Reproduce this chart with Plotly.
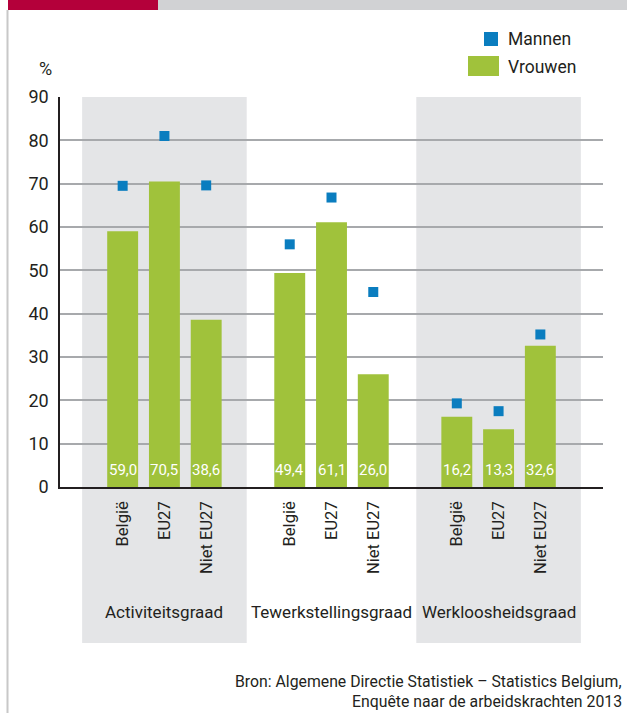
import plotly.graph_objects as go

# ---- data ----
groups = ["Activiteitsgraad", "Tewerkstellingsgraad", "Werkloosheidsgraad"]
origins = ["België", "EU27", "Niet EU27"]
vrouwen = [59.0, 70.5, 38.6, 49.4, 61.1, 26.0, 16.2, 13.3, 32.6]
mannen = [69.5, 81.0, 69.6, 56.0, 66.8, 45.0, 19.3, 17.5, 35.2]
y_ticks = [0, 10, 20, 30, 40, 50, 60, 70, 80, 90]
source_lines = ["Bron: Algemene Directie Statistiek – Statistics Belgium,",
                "Enquête naar de arbeidskrachten 2013"]

# ---- layout helpers ----
W, H = 627, 713
ML, MR, MT, MB = 60, 24, 97, 226
PW, PH = W - ML - MR, H - MT - MB

def px(xp):  # page pixel x -> paper x
    return (xp - ML) / PW

def py(yp):  # page pixel y -> paper y
    return (H - MB - yp) / PH

FONT = "Roboto, Liberation Sans, sans-serif"
GREEN = "#a0c23b"
BLUE = "#0a7dbf"
BAND = "#e4e5e7"
TXT = "#231f20"

# positions: 3 per group, one empty slot between groups
pos = []
labels = []
for gi in range(len(groups)):
    for j, o in enumerate(origins):
        pos.append(gi * 4 + j)
        labels.append(o)
centers = [gi * 4 + 1 for gi in range(len(groups))]

fmt = [f"{v:.1f}".replace(".", ",") for v in vrouwen]

fig = go.Figure()
fig.add_trace(go.Bar(
    x=pos, y=vrouwen, name="Vrouwen", width=0.74,
    marker=dict(color=GREEN, line=dict(width=0)),
    showlegend=False, hoverinfo="x+y",
))
fig.add_trace(go.Scatter(
    x=pos, y=mannen, name="Mannen", mode="markers",
    marker=dict(symbol="square", size=10, color=BLUE, line=dict(width=0)),
    showlegend=False,
))

shapes = []
# grey background bands for first and last group
for gi in (0, 2):
    c = centers[gi]
    shapes.append(dict(type="rect", xref="x", yref="paper",
                       x0=c - 1.97, x1=c + 1.97, y0=py(643), y1=1.0,
                       fillcolor=BAND, line=dict(width=0), layer="below"))
# header bars
shapes.append(dict(type="rect", xref="paper", yref="paper",
                   x0=px(8), x1=px(158), y0=py(10), y1=py(-2),
                   fillcolor="#b4003a", line=dict(width=0)))
shapes.append(dict(type="rect", xref="paper", yref="paper",
                   x0=px(158), x1=px(630), y0=py(10), y1=py(-2),
                   fillcolor="#d1d2d4", line=dict(width=0)))
# left border
shapes.append(dict(type="line", xref="paper", yref="paper",
                   x0=px(7.5), x1=px(7.5), y0=py(10), y1=py(716),
                   line=dict(color="#c8c8c8", width=2)))
# legend symbols
shapes.append(dict(type="rect", xref="paper", yref="paper",
                   x0=px(484), x1=px(498), y0=py(46), y1=py(32),
                   fillcolor=BLUE, line=dict(width=0)))
shapes.append(dict(type="rect", xref="paper", yref="paper",
                   x0=px(468), x1=px(499), y0=py(76), y1=py(56),
                   fillcolor=GREEN, line=dict(width=0)))

ann = []
# value labels at the foot of each bar
for xv, t in zip(pos, fmt):
    ann.append(dict(x=xv, y=0, xref="x", yref="y", text=t, showarrow=False,
                    xanchor="center", yanchor="bottom", yshift=6,
                    font=dict(size=15, color="white", family=FONT)))
for gi, g in enumerate(groups):
    ann.append(dict(x=centers[gi], xref="x", y=py(612), yref="paper",
                    text=g, showarrow=False, xanchor="center", yanchor="middle",
                    font=dict(size=17, color=TXT, family=FONT)))
ann.append(dict(x=px(45), y=py(68), xref="paper", yref="paper", text="%",
                showarrow=False, xanchor="center", yanchor="middle",
                font=dict(size=18, color=TXT, family=FONT)))
ann.append(dict(x=px(506), y=py(39), xref="paper", yref="paper", text="Mannen",
                showarrow=False, xanchor="left", yanchor="middle",
                font=dict(size=17.5, color=TXT, family=FONT)))
ann.append(dict(x=px(506), y=py(67), xref="paper", yref="paper", text="Vrouwen",
                showarrow=False, xanchor="left", yanchor="middle",
                font=dict(size=17.5, color=TXT, family=FONT)))
for k, line in enumerate(source_lines):
    ann.append(dict(x=px(624), y=py(681 + 20 * k), xref="paper", yref="paper",
                    text=line, showarrow=False, xanchor="right", yanchor="middle",
                    font=dict(size=15.8, color=TXT, family=FONT)))

fig.update_layout(
    width=W, height=H,
    margin=dict(l=ML, r=MR, t=MT, b=MB, pad=0),
    paper_bgcolor="white", plot_bgcolor="rgba(0,0,0,0)",
    font=dict(family=FONT, color=TXT),
    shapes=shapes, annotations=ann,
    showlegend=False,
    xaxis=dict(range=[-1.5, 11.5], tickmode="array", tickvals=pos, ticktext=labels,
               tickangle=-90, tickfont=dict(size=16.5, color=TXT, family=FONT),
               showgrid=False, zeroline=False, showline=True,
               linecolor="#231f20", linewidth=1.5, ticks="", ticklabelstandoff=6,
               fixedrange=True),
    yaxis=dict(range=[0, 90], tickmode="array", tickvals=y_ticks,
               tickfont=dict(size=18, color=TXT, family=FONT),
               showgrid=True, gridcolor="#a7a9ac", gridwidth=1.5,
               zeroline=False, showline=True, linecolor="#231f20", linewidth=1.5,
               ticks="", ticklabelstandoff=6, fixedrange=True),
)

# remove the browser's default 8px body margin so the figure fills the window
fig.write_html("out.html",
               config={"displayModeBar": False},
               post_script="document.body.style.margin='0';"
                           "document.body.style.overflow='hidden';")
